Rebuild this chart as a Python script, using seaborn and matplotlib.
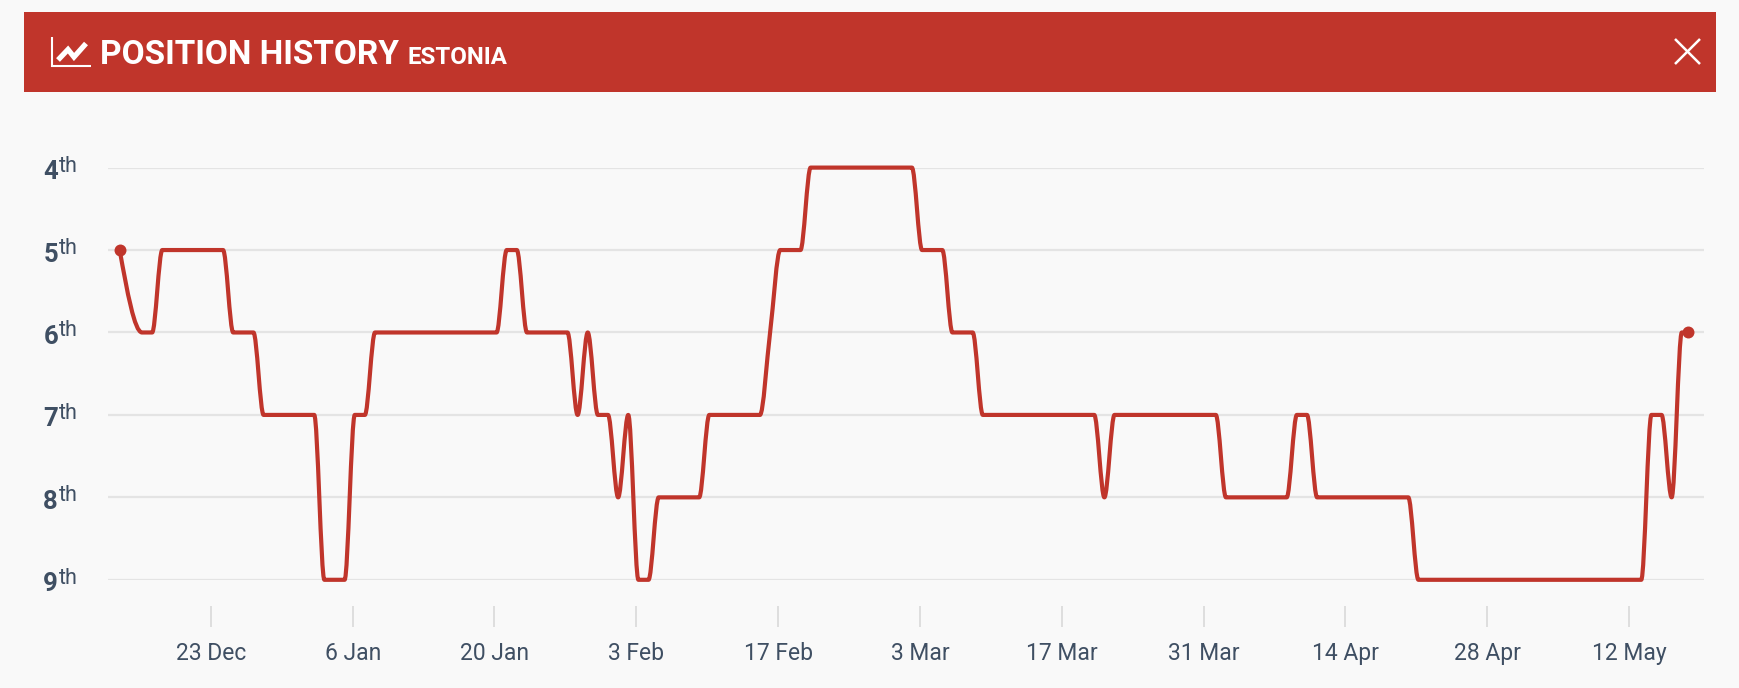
import numpy as np
import pandas as pd
import matplotlib
matplotlib.use("Agg")
import matplotlib.pyplot as plt
from matplotlib.lines import Line2D
from matplotlib.path import Path
from matplotlib.patches import PathPatch, Polygon, Rectangle
from matplotlib.transforms import ScaledTranslation
import seaborn as sns

# Plateau ends
dates = [
    "2018-12-14", "2018-12-16", "2018-12-17", "2018-12-18", "2018-12-24", "2018-12-25",
    "2018-12-27", "2018-12-28", "2019-01-02", "2019-01-03", "2019-01-05", "2019-01-06",
    "2019-01-07", "2019-01-08", "2019-01-20", "2019-01-21", "2019-01-22", "2019-01-23",
    "2019-01-27", "2019-01-28", "2019-01-29", "2019-01-30", "2019-01-31", "2019-02-01",
    "2019-02-02", "2019-02-03", "2019-02-04", "2019-02-05", "2019-02-09", "2019-02-10",
    "2019-02-15", "2019-02-16", "2019-02-17", "2019-02-19", "2019-02-20", "2019-03-02",
    "2019-03-03", "2019-03-05", "2019-03-06", "2019-03-08", "2019-03-09", "2019-03-20",
    "2019-03-21", "2019-03-22", "2019-04-01", "2019-04-02", "2019-04-08", "2019-04-09",
    "2019-04-10", "2019-04-11", "2019-04-20", "2019-04-21", "2019-05-13", "2019-05-14",
    "2019-05-15", "2019-05-16", "2019-05-17", "2019-05-18",
]
positions = [
    5, 6, 6, 5, 5, 6,
    6, 7, 7, 9, 9, 7,
    7, 6, 6, 5, 5, 6,
    6, 7, 6, 7, 7, 8,
    7, 9, 9, 8, 8, 7,
    7, 6, 5, 5, 4, 4,
    5, 5, 6, 6, 7, 7,
    8, 7, 7, 8, 8, 7,
    7, 8, 8, 9, 9, 7,
    7, 8, 6, 6,
]
tick_dates = ["2018-12-23", "2019-01-06", "2019-01-20", "2019-02-03", "2019-02-17", "2019-03-03",
              "2019-03-17", "2019-03-31", "2019-04-14", "2019-04-28", "2019-05-12"]
tick_labels = ["23 Dec", "6 Jan", "20 Jan", "3 Feb", "17 Feb", "3 Mar",
               "17 Mar", "31 Mar", "14 Apr", "28 Apr", "12 May"]
rank_ticks = [4, 5, 6, 7, 8, 9]
title = "POSITION HISTORY"
subtitle = "ESTONIA"

RED = "#c0352b"
BG = "#f9f9f9"
TEXT = "#3f4f63"
GRID = "#e4e4e4"
W, H = 1740, 688

df = pd.DataFrame({"date": pd.to_datetime(dates), "position": positions})
# the points sit a few hours after the midnight ticks
shift = pd.Timedelta(hours=5)
df.loc[1:len(df) - 2, "date"] += shift
df.loc[len(df) - 1, "date"] -= shift


def monotone_path(xs, ys):
    # monotone cubic through the points, as the original chart draws its line
    h = np.diff(xs)
    s = np.diff(ys) / h
    t = np.zeros(len(xs))
    for i in range(1, len(xs) - 1):
        p = (s[i - 1] * h[i] + s[i] * h[i - 1]) / (h[i - 1] + h[i])
        t[i] = (np.sign(s[i - 1]) + np.sign(s[i])) * min(abs(s[i - 1]), abs(s[i]), 0.5 * abs(p))
    t[0] = (3 * s[0] - t[1]) / 2
    t[-1] = (3 * s[-1] - t[-2]) / 2
    verts = [(xs[0], ys[0])]
    codes = [Path.MOVETO]
    for i in range(len(h)):
        d = h[i] / 3
        verts += [(xs[i] + d, ys[i] + t[i] * d), (xs[i + 1] - d, ys[i + 1] - t[i + 1] * d), (xs[i + 1], ys[i + 1])]
        codes += [Path.CURVE4] * 3
    return Path(verts, codes)


sns.set_theme(style="whitegrid")
plt.rcParams["font.family"] = ["Roboto", "DejaVu Sans"]

fig = plt.figure(figsize=(W / 100, H / 100), dpi=100, facecolor=BG)
ax = fig.add_axes([107.6 / W, 1 - 579.8 / H, (1704.5 - 107.6) / W, (579.8 - 167.6) / H])
ax.set_facecolor(BG)

sns.lineplot(data=df, x="date", y="position", color=RED, linewidth=3, ax=ax, zorder=3)
ends = df.iloc[[0, -1]]
sns.scatterplot(data=ends, x="date", y="position", color=RED, s=74, linewidth=0, ax=ax, zorder=4, clip_on=False)

# same points, curved instead of straight
line = ax.lines[0]
xy = line.get_xydata()
line.set_visible(False)
ax.add_patch(PathPatch(monotone_path(xy[:, 0], xy[:, 1]), fill=False, edgecolor=RED, linewidth=3,
                       capstyle="round", joinstyle="round", clip_on=False, zorder=3))

# 10.13 px per day, anchored on the first tick
t0 = pd.Timestamp(tick_dates[0])
ax.set_xlim(t0 - pd.Timedelta(days=10.19), t0 + pd.Timedelta(days=147.45))
ax.set_ylim(9, 4)

ax.set_xlabel("")
ax.set_ylabel("")
ax.set_xticks(pd.to_datetime(tick_dates))
ax.set_xticklabels(tick_labels)
ax.set_yticks(rank_ticks)
ax.set_yticklabels([str(r) for r in rank_ticks], fontsize=18.5, fontweight="bold", color=TEXT)

ax.grid(False)
ax.grid(axis="y", color=GRID, linewidth=1.6)
for name in ["top", "left", "right", "bottom"]:
    ax.spines[name].set_visible(False)
ax.spines["bottom"].set_position(("outward", 26 * 0.72))
ax.tick_params(axis="x", length=21 * 0.72, width=1.3, color="#dcdcdc", pad=11, bottom=True,
               labelsize=16.5, labelcolor=TEXT)
ax.tick_params(axis="y", length=0, pad=35.7, left=False)

down = ScaledTranslation(0, -2 / 100, fig.dpi_scale_trans)
for lab in ax.get_yticklabels():
    lab.set_transform(lab.get_transform() + down)
for r in rank_ticks:
    ax.annotate("th", xy=(0, r), xycoords=ax.get_yaxis_transform(), xytext=(-49 * 0.72, -4 * 0.72),
                textcoords="offset points", ha="left", va="baseline", fontsize=15.5, color=TEXT,
                annotation_clip=False)

# Header band
fig.patches.append(Rectangle((24.4 / W, 1 - 92 / H), (1715.6 - 24.4) / W, 80 / H, transform=fig.transFigure,
                             facecolor=RED, edgecolor="none"))
fig.text(100 / W, 1 - 64 / H, title, color="white", fontsize=24.05, fontweight="bold", va="baseline")
fig.text(408 / W, 1 - 64 / H, subtitle, color="white", fontsize=17.3, fontweight="bold", va="baseline")


def hline(xs, ys, lw):
    fig.add_artist(Line2D([x / W for x in xs], [1 - y / H for y in ys], color="white", linewidth=lw,
                          solid_capstyle="butt", solid_joinstyle="miter"))


# Chart icon
hline([52.4, 52.4, 90.7], [37, 66, 66], 1.5)
hline([58, 68, 74, 86], [60, 49.5, 57, 43.5], 3.8)
fig.add_artist(Polygon([(77 / W, 1 - 40 / H), (90 / W, 1 - 40 / H), (90 / W, 1 - 53 / H)],
                       closed=True, facecolor="white", edgecolor="none", transform=fig.transFigure))
# Close cross
hline([1675, 1700], [39, 64], 1.8)
hline([1675, 1700], [64, 39], 1.8)

fig.savefig("out.png", dpi=100, facecolor=BG)
